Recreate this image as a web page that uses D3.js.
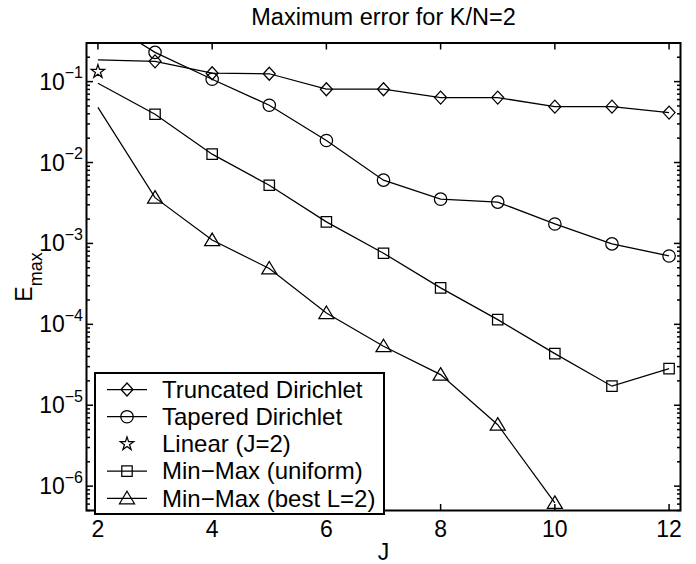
<!DOCTYPE html>
<html>
<head>
<meta charset="utf-8">
<script src="https://cdn.jsdelivr.net/npm/d3@7"></script>
<style>
  html, body { margin: 0; padding: 0; background: #fff; }
  svg { display: block; font-family: "Liberation Sans", Arial, Helvetica, sans-serif; }
</style>
</head>
<body>
<svg id="chart" width="696" height="564"></svg>
<script>
// ---- data ----
const J = [2, 3, 4, 5, 6, 7, 8, 9, 10, 11, 12];
const truncatedDirichlet = [0.185, 0.178, 0.127, 0.125, 0.0805, 0.0805, 0.0634, 0.0634, 0.049, 0.049, 0.0414];
const taperedDirichlet   = [0.63, 0.23, 0.107, 0.051, 0.0187, 0.00605, 0.00352, 0.00324, 0.00174, 0.000986, 0.0007];
const linearJ = [2];
const linearValue = [0.133];
const minMaxUniform = [0.0955, 0.0395, 0.01268, 0.00523, 0.001845, 0.000757, 0.000282, 0.0001143, 4.34e-5, 1.72e-5, 2.83e-5];
const minMaxBestJ = [2, 3, 4, 5, 6, 7, 8, 9, 10];
const minMaxBest  = [0.048, 0.00368, 0.0011, 0.00049, 1.38e-4, 5.36e-5, 2.39e-5, 5.75e-6, 6.2e-7];
const markerFromJ = 3; // markers are drawn from J=3 onward
const xTicks = [2, 4, 6, 8, 10, 12];
const yDecades = [-6, -5, -4, -3, -2, -1];
const legendLabels = ["Truncated Dirichlet", "Tapered Dirichlet", "Linear (J=2)", "Min\u2212Max (uniform)", "Min\u2212Max (best L=2)"];
const titleText = "Maximum error for K/N=2";

// ---- layout ----
const svg = d3.select("#chart");
const L = 86.5, R = 680.5, T = 43, B = 510.5;
const x = d3.scaleLinear().domain([1.8, 12.2]).range([L, R]);
const y = d3.scaleLog().domain([5e-7, 0.3]).range([B, T]);

// markers
function markerPath(type) {
  const p = d3.path();
  if (type === "diamond") {
    p.moveTo(0, -6.5); p.lineTo(6, 0); p.lineTo(0, 6.5); p.lineTo(-6, 0); p.closePath();
    return p.toString();
  }
  if (type === "square") {
    p.rect(-5.2, -5.2, 10.4, 10.4); return p.toString();
  }
  if (type === "triangle") {
    p.moveTo(0, -7); p.lineTo(7.5, 5.5); p.lineTo(-7.5, 5.5); p.closePath();
    return p.toString();
  }
  if (type === "circle") {
    return d3.symbol(d3.symbolCircle, Math.PI * 6.2 * 6.2)();
  }
  if (type === "star") {
    return d3.symbol(d3.symbolStar, 55)();
  }
}

const series = [
  { name: legendLabels[0], xs: J, ys: truncatedDirichlet, marker: "diamond", line: true },
  { name: legendLabels[1], xs: J, ys: taperedDirichlet, marker: "circle", line: true },
  { name: legendLabels[2], xs: linearJ, ys: linearValue, marker: "star", line: false },
  { name: legendLabels[3], xs: J, ys: minMaxUniform, marker: "square", line: true },
  { name: legendLabels[4], xs: minMaxBestJ, ys: minMaxBest, marker: "triangle", line: true }
];

svg.append("defs").append("clipPath").attr("id", "clip")
  .append("rect").attr("x", L).attr("y", T).attr("width", R - L).attr("height", B - T);

const plot = svg.append("g").attr("clip-path", "url(#clip)");
const lineGen = d3.line().x(d => x(d[0])).y(d => y(d[1]));

series.forEach(s => {
  const pts = s.xs.map((v, i) => [v, s.ys[i]]);
  if (s.line) {
    plot.append("path").attr("d", lineGen(pts))
      .attr("fill", "none").attr("stroke", "#000").attr("stroke-width", 1.25);
  }
  const mpts = s.line ? pts.filter(d => d[0] >= markerFromJ) : pts;
  plot.selectAll(null).data(mpts).enter().append("path")
    .attr("d", markerPath(s.marker))
    .attr("transform", d => `translate(${x(d[0])},${y(d[1])})`)
    .attr("fill", "none").attr("stroke", "#000").attr("stroke-width", 1.25);
});

// ---- axes ----
const axes = svg.append("g");
const majorLen = 6.5, minorLen = 3.5;
// x ticks (bottom & top)
xTicks.forEach(t => {
  axes.append("line").attr("x1", x(t)).attr("x2", x(t)).attr("y1", B).attr("y2", B - majorLen)
    .attr("stroke", "#000").attr("stroke-width", 1.5);
  axes.append("line").attr("x1", x(t)).attr("x2", x(t)).attr("y1", T).attr("y2", T + majorLen)
    .attr("stroke", "#000").attr("stroke-width", 1.5);
  axes.append("text").attr("x", x(t)).attr("y", 537).attr("text-anchor", "middle")
    .attr("font-size", 23).text(t);
});
// y ticks (left & right), log minor ticks
const [y0, y1] = y.domain();
for (let e = -7; e <= 0; e++) {
  for (let m = 1; m <= 9; m++) {
    const v = m * Math.pow(10, e);
    if (v < y0 || v > y1) continue;
    const len = m === 1 ? majorLen : minorLen;
    const yy = y(v);
    axes.append("line").attr("x1", L).attr("x2", L + len).attr("y1", yy).attr("y2", yy)
      .attr("stroke", "#000").attr("stroke-width", 1.5);
    axes.append("line").attr("x1", R).attr("x2", R - len).attr("y1", yy).attr("y2", yy)
      .attr("stroke", "#000").attr("stroke-width", 1.5);
  }
}
yDecades.forEach(e => {
  const yy = y(Math.pow(10, e));
  const t = axes.append("text").attr("x", 83).attr("y", yy + 8).attr("text-anchor", "end").attr("font-size", 23);
  t.append("tspan").text("10");
  t.append("tspan").attr("dy", -11.5).attr("font-size", 16).text("\u2212" + Math.abs(e));
});
// box
axes.append("rect").attr("x", L).attr("y", T).attr("width", R - L).attr("height", B - T)
  .attr("fill", "none").attr("stroke", "#000").attr("stroke-width", 2);

// title & labels
svg.append("text").attr("x", (L + R) / 2).attr("y", 25).attr("text-anchor", "middle")
  .attr("font-size", 23.5).text(titleText);
svg.append("text").attr("x", (L + R) / 2).attr("y", 560).attr("text-anchor", "middle")
  .attr("font-size", 23).text("J");
const yl = svg.append("text").attr("transform", "translate(32,277) rotate(-90)")
  .attr("text-anchor", "middle").attr("font-size", 23);
yl.append("tspan").text("E");
yl.append("tspan").attr("dy", 10).attr("font-size", 18).text("max");

// ---- legend ----
const lg = svg.append("g");
const lgX = 95, lgY = 373, lgW = 289, lgH = 141;
lg.append("rect").attr("x", lgX).attr("y", lgY).attr("width", lgW).attr("height", lgH)
  .attr("fill", "#fff").attr("stroke", "#000").attr("stroke-width", 2);
series.forEach((s, i) => {
  const cy = 389.5 + i * 27.2;
  if (s.line) {
    lg.append("line").attr("x1", 107).attr("x2", 147).attr("y1", cy).attr("y2", cy)
      .attr("stroke", "#000").attr("stroke-width", 1.25);
  }
  lg.append("path").attr("d", markerPath(s.marker)).attr("transform", `translate(127,${cy})`)
    .attr("fill", "none").attr("stroke", "#000").attr("stroke-width", 1.25);
  lg.append("text").attr("x", 162).attr("y", cy + 8.3).attr("font-size", 24).text(s.name);
});
</script>
</body>
</html>
